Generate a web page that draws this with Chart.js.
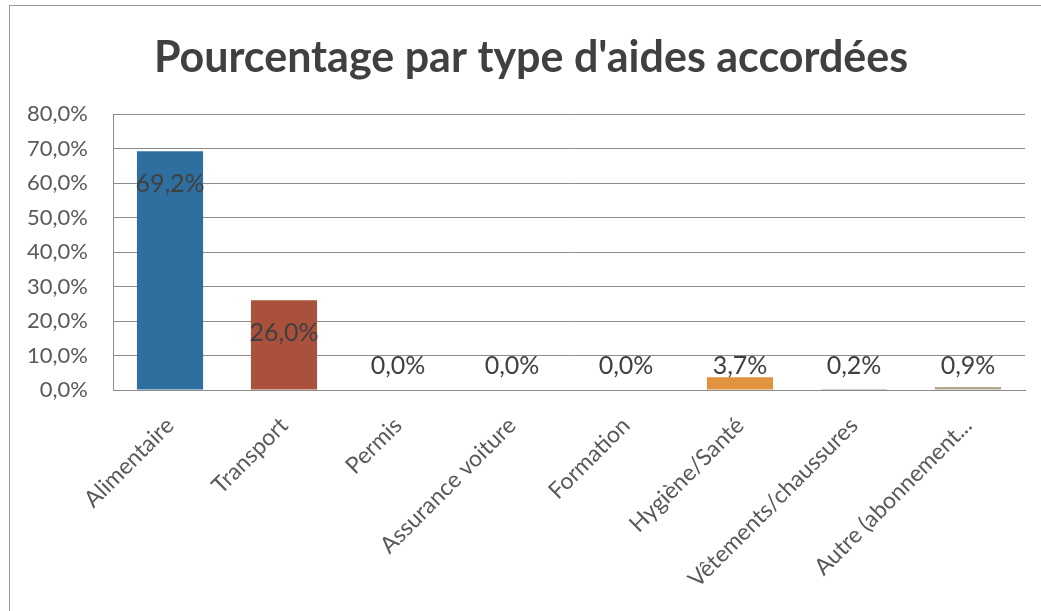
<!DOCTYPE html>
<html>
<head>
<meta charset="utf-8">
<script src="https://cdn.jsdelivr.net/npm/chart.js@4"></script>
<style>
  html, body { margin: 0; padding: 0; background: #fff; overflow: hidden; }
  #frame {
    position: absolute; left: 9px; top: 5px; width: 1100px; height: 700px;
    border-left: 1px solid #9a9a9a; border-top: 1px solid #9a9a9a;
  }
  #wrap { position: absolute; left: 0; top: 0; width: 1041px; height: 611px; }
</style>
</head>
<body>
<div id="frame"></div>
<div id="wrap"><canvas id="aidesChart"></canvas></div>
<script>
const chartTitle = "Pourcentage par type d'aides accordées";
const categories = ['Alimentaire', 'Transport', 'Permis', 'Assurance voiture', 'Formation', 'Hygiène/Santé', 'Vêtements/chaussures', 'Autre (abonnement...'];
const percentages = [69.2, 26.0, 0.0, 0.0, 0.0, 3.7, 0.2, 0.9];
const barColors = ['#2f6fa0', '#a9513d', '#9bbb59', '#8064a2', '#4bacc6', '#e0923f', '#2c4d75', '#b4a792'];

const fontFamily = 'Lato, "Open Sans", sans-serif';
const fmt = v => v.toFixed(1).replace('.', ',') + '%';

// title is centred on the whole Excel chart box, not on the canvas
const titlePlugin = {
  id: 'boxTitle',
  afterDraw(chart) {
    const ctx = chart.ctx;
    ctx.save();
    ctx.font = 'bold 43px ' + fontFamily;
    ctx.fillStyle = '#404040';
    ctx.textAlign = 'center';
    ctx.textBaseline = 'middle';
    ctx.fillText(chartTitle, 531, 58);
    ctx.restore();
  }
};

// Excel-like value labels: inside the tall bars, just above the axis for the small ones
const valueLabels = {
  id: 'valueLabels',
  afterDatasetsDraw(chart) {
    const ctx = chart.ctx;
    const yScale = chart.scales.y;
    const meta = chart.getDatasetMeta(0);
    ctx.save();
    ctx.font = '25px ' + fontFamily;
    ctx.fillStyle = '#404040';
    ctx.textAlign = 'center';
    ctx.textBaseline = 'middle';
    meta.data.forEach((bar, i) => {
      const v = percentages[i];
      const y = v > 10 ? bar.y + 33 : yScale.getPixelForValue(0) - 24;
      ctx.fillText(fmt(v), bar.x, y);
    });
    ctx.restore();
  }
};

new Chart(document.getElementById('aidesChart'), {
  type: 'bar',
  data: {
    labels: categories,
    datasets: [{
      data: percentages,
      backgroundColor: barColors,
      categoryPercentage: 1.0,
      barPercentage: 0.58
    }]
  },
  options: {
    responsive: true,
    maintainAspectRatio: false,
    animation: false,
    layout: { padding: { left: 0, right: 16, top: 114, bottom: 0 } },
    plugins: {
      legend: { display: false },
      tooltip: { enabled: false }
    },
    scales: {
      y: {
        min: 0,
        max: 80,
        ticks: {
          stepSize: 10,
          padding: 25,
          color: '#595959',
          font: { family: fontFamily, size: 22 },
          callback: v => fmt(v)
        },
        grid: { color: '#8c8c8c', drawTicks: false },
        border: { color: '#8c8c8c' },
        afterFit(scale) { scale.width = 113; }
      },
      x: {
        ticks: {
          autoSkip: false,
          minRotation: 45,
          maxRotation: 45,
          padding: 22,
          color: '#595959',
          font: { family: fontFamily, size: 23 }
        },
        grid: { display: false, drawTicks: false },
        border: { color: '#8c8c8c' },
        afterFit(scale) { scale.height = 221; }
      }
    }
  },
  plugins: [valueLabels, titlePlugin]
});
</script>
</body>
</html>
